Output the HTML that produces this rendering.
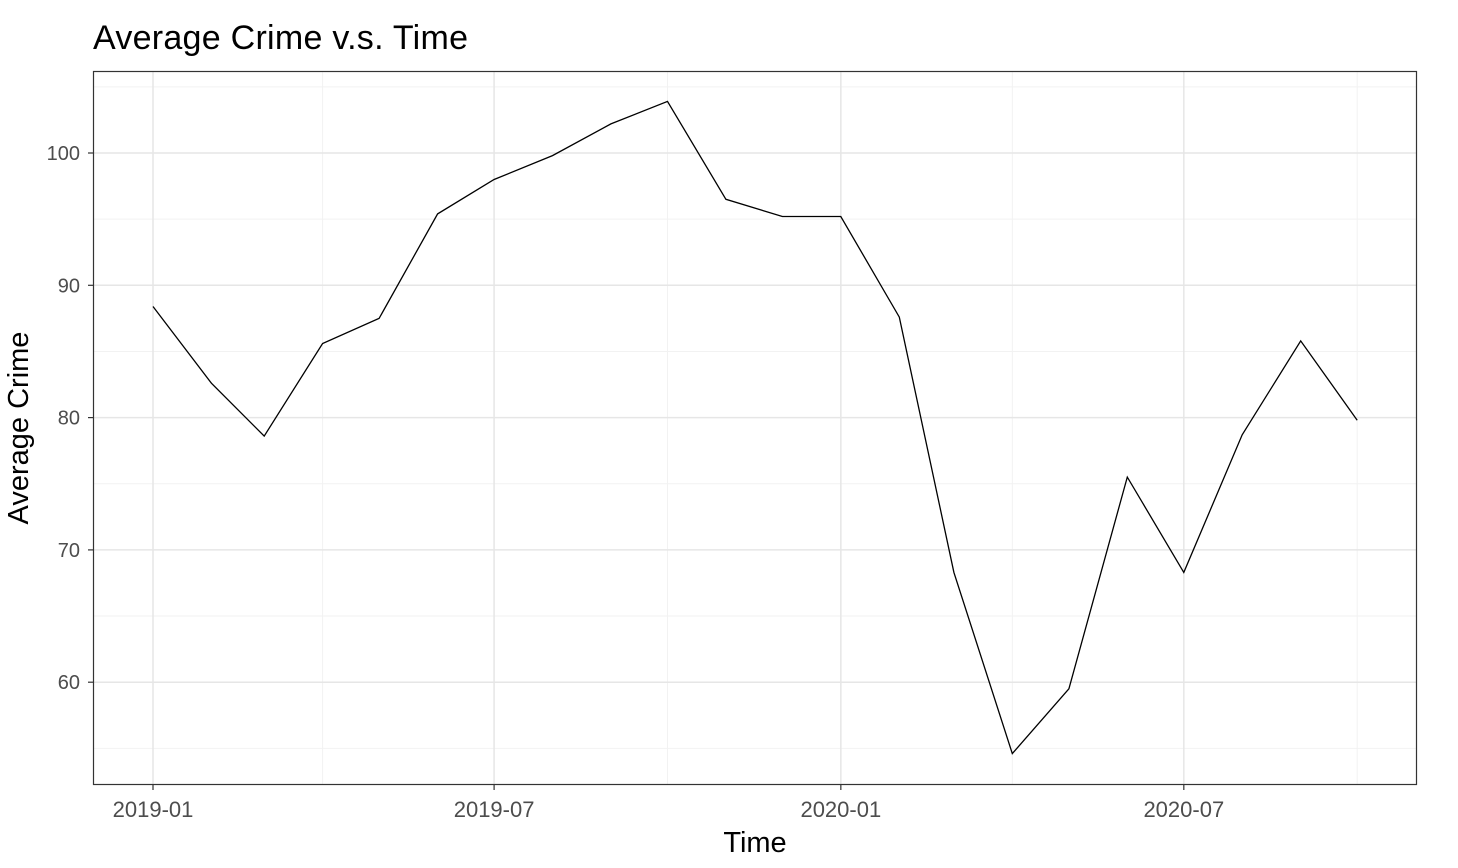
<!DOCTYPE html>
<html><head><meta charset="utf-8"><style>
html,body{margin:0;padding:0;background:#fff;}
svg{display:block;font-family:"Liberation Sans",Arial,sans-serif;}
</style></head><body>
<svg id="chart" width="1458" height="868">
<text x="93" y="49" font-size="34" fill="#000" textLength="375">Average Crime v.s. Time</text>
<g id="grid"></g>
<g id="series"></g>
<rect x="93.5" y="71.5" width="1323" height="713" fill="none" stroke="#333" stroke-width="1.2"/>
<g id="axes"></g>
<text x="755" y="852" font-size="29" text-anchor="middle" fill="#000">Time</text>
<text transform="translate(28,428) rotate(-90)" font-size="29" text-anchor="middle" fill="#000">Average Crime</text>
</svg>
<script>
const dates = ["2019-01-01","2019-02-01","2019-03-01","2019-04-01","2019-05-01","2019-06-01","2019-07-01","2019-08-01","2019-09-01","2019-10-01","2019-11-01","2019-12-01","2020-01-01","2020-02-01","2020-03-01","2020-04-01","2020-05-01","2020-06-01","2020-07-01","2020-08-01","2020-09-01","2020-10-01"];
const values = [88.4,82.6,78.6,85.6,87.5,95.4,98.0,99.8,102.2,103.9,96.5,95.2,95.2,87.6,68.3,54.6,59.5,75.5,68.3,78.7,85.8,79.8];
const xTickLabels = ["2019-01","2019-07","2020-01","2020-07"];
const xTickDates = ["2019-01-01","2019-07-01","2020-01-01","2020-07-01"];
const xMinorDates = ["2018-10-01","2019-04-01","2019-10-01","2020-04-01","2020-10-01"];
const yTicks = [60,70,80,90,100];
const yMinor = [55,65,75,85,95,105];

const NS="http://www.w3.org/2000/svg";
const t0=Date.parse("2019-01-01");
const day=86400000;
function xs(d){return 153+(Date.parse(d)-t0)/day*1.8845;}
function ys(v){return 153+(100-v)*13.23;}
const L=93,R=1417,T=71,B=785;
function mk(tag,attrs,parent){const e=document.createElementNS(NS,tag);for(const k in attrs)e.setAttribute(k,attrs[k]);parent.appendChild(e);return e;}
const grid=document.getElementById('grid'),axes=document.getElementById('axes'),series=document.getElementById('series');
yMinor.forEach(v=>{const y=ys(v);if(y<T||y>B)return;const e=mk('line',{x1:L,x2:R,y1:y,y2:y,stroke:'#f2f2f2','stroke-width':1},grid);

});
xMinorDates.forEach(d=>{const x=xs(d);if(x<L||x>R)return;const e=mk('line',{x1:x,x2:x,y1:T,y2:B,stroke:'#f2f2f2','stroke-width':1},grid);

});
yTicks.forEach(v=>{const y=ys(v);const e=mk('line',{x1:L,x2:R,y1:y,y2:y,stroke:'#e6e6e6','stroke-width':1.5},grid);


const tk=mk('line',{x1:L-5,x2:L,y1:y,y2:y,stroke:'#333','stroke-width':1.2},axes);


const t=mk('text',{x:L-13,y:y+7,'font-size':20,fill:'#4d4d4d','text-anchor':'end'},axes);t.textContent=v;

});
xTickDates.forEach((d,i)=>{const x=xs(d);const e=mk('line',{x1:x,x2:x,y1:T,y2:B,stroke:'#e6e6e6','stroke-width':1.5},grid);


const tk=mk('line',{x1:x,x2:x,y1:B,y2:B+5,stroke:'#333','stroke-width':1.2},axes);


const t=mk('text',{x:x,y:B+32,'font-size':22,fill:'#4d4d4d','text-anchor':'middle'},axes);t.textContent=xTickLabels[i];

});
const pts=dates.map((d,i)=>xs(d).toFixed(1)+','+ys(values[i]).toFixed(1)).join(' ');
const pl=mk('polyline',{points:pts,fill:'none',stroke:'#000','stroke-width':1.3},series);


</script>
</body></html>
